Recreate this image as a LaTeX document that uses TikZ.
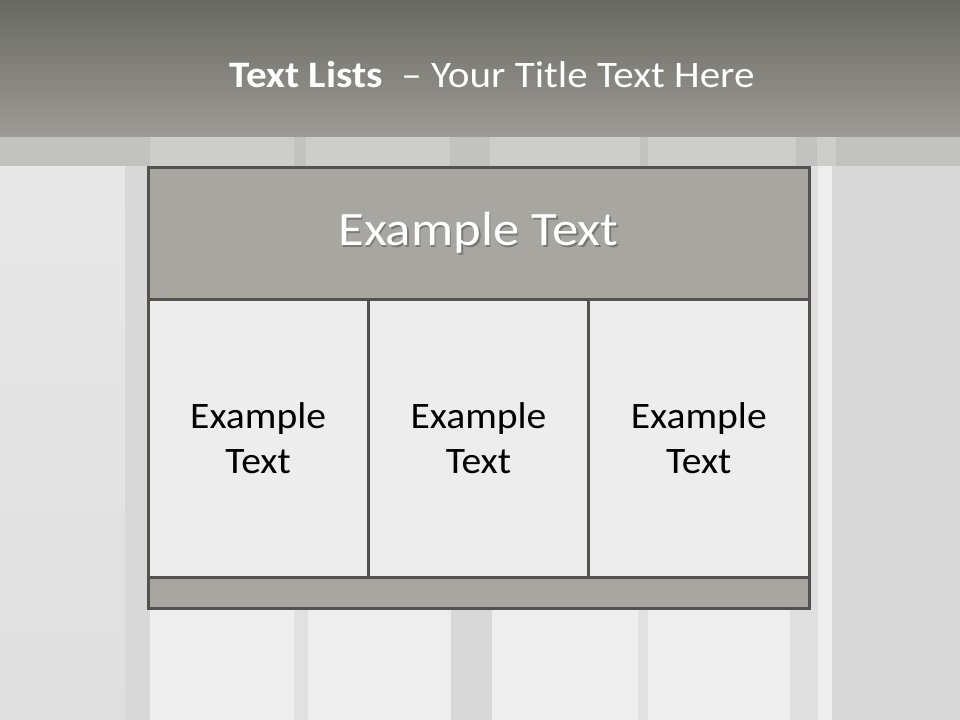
\documentclass[tikz,border=0pt]{standalone}
\usepackage{fontspec}
\setmainfont{Carlito}
\newfontfamily\anchaA[FakeStretch=1.10]{Carlito}
\newfontfamily\anchaB[FakeStretch=1.06]{Carlito}
\usetikzlibrary{positioning}
\definecolor{barraarriba}{HTML}{696964}
\definecolor{barraabajo}{HTML}{9C9B96}
\definecolor{franja}{HTML}{CDCDCB}
\definecolor{franjaosc}{HTML}{C2C2C0}
\definecolor{fondo}{HTML}{EEEEEE}
\definecolor{fondoosc}{HTML}{D8D8D8}
\definecolor{fondomed}{HTML}{DFDFDF}
\definecolor{marco}{HTML}{52524E}
\definecolor{cabeza}{HTML}{A7A6A1}
\definecolor{celdaclara}{HTML}{EDEDED}
\definecolor{sombra}{HTML}{7A7975}
\newcommand{\sombreado}[1]{\rlap{\kern1.2pt\raisebox{-1.2pt}{\textcolor{sombra}{#1}}}#1}
\tikzset{
  hdrbox/.style={draw=marco,line width=2.25pt,fill=cabeza,minimum width=495.75pt,
    minimum height=99pt,inner sep=0pt,outer sep=0pt,text=white,
    font=\anchaA\fontsize{36}{43}\selectfont},
  cellbox/.style={draw=marco,line width=2.25pt,fill=celdaclara,minimum width=165.25pt,
    minimum height=207.75pt,inner sep=0pt,outer sep=0pt,align=center,
    font=\anchaB\fontsize{28}{33.6}\selectfont},
  footbox/.style={draw=marco,line width=2.25pt,fill=cabeza,minimum width=495.75pt,
    minimum height=23.25pt,inner sep=0pt,outer sep=0pt},
  titletext/.style={text=white,inner sep=0pt,font=\anchaA\fontsize{28}{34}\selectfont}
}
\begin{document}
\begin{tikzpicture}[x=0.75pt,y=-0.75pt]
\useasboundingbox (0,0) rectangle (960,720);
\fill[fondo] (0,137) rectangle (960,720);
\shade[top color=fondomed!70!white,bottom color=fondomed] (0,137) rectangle (125,720);
\fill[fondoosc] (125,137) rectangle (150,720);
\fill[fondoosc!60!fondo] (294,137) rectangle (308,720);
\fill[fondoosc] (451,137) rectangle (492,720);
\fill[fondoosc!60!fondo] (638,137) rectangle (648,720);
\fill[fondomed] (790,137) rectangle (818,720);
\fill[fondoosc] (832,137) rectangle (960,720);
\fill[franja] (0,137) rectangle (960,166);
\fill[franjaosc] (0,137) rectangle (150,166);
\fill[franjaosc] (294,137) rectangle (306,166);
\fill[franjaosc] (450,137) rectangle (490,166);
\fill[franjaosc] (640,137) rectangle (648,166);
\fill[franjaosc] (796,137) rectangle (817,166);
\fill[franjaosc] (836,137) rectangle (960,166);
\shade[top color=barraarriba,bottom color=barraabajo] (0,0) rectangle (960,137);
\node[titletext] (ttl) at (492,75) {\textbf{Text Lists}\ \ – Your Title Text Here};
\node[hdrbox] (hdr) at (478.5,234) {\sombreado{Example Text}};
\node[cellbox,below right=0pt and 0pt of hdr.south west] (c1) {Example\\Text};
\node[cellbox,right=0pt of c1] (c2) {Example\\Text};
\node[cellbox,right=0pt of c2] (c3) {Example\\Text};
\node[footbox,below right=0pt and 0pt of c1.south west] (ftr) {};
\end{tikzpicture}
\end{document}
